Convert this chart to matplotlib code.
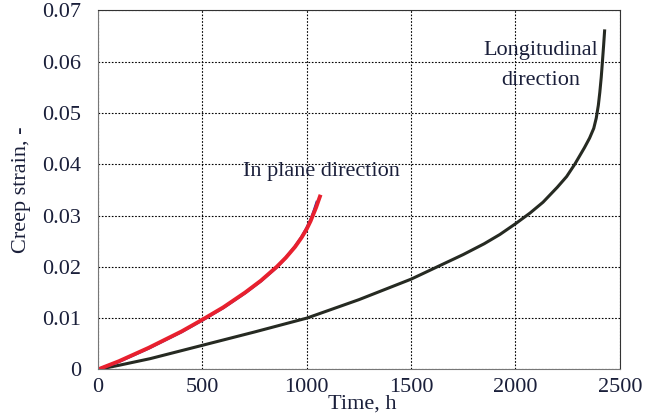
import matplotlib
matplotlib.use("Agg")
import matplotlib.pyplot as plt

# in plane direction (two specimens, red drawn over blue)
plane_time = [0, 100, 242, 400, 500, 600, 705, 780, 856, 900, 944, 975, 1000, 1018, 1032, 1045, 1056, 1063]
plane_strain = [0, 0.0016, 0.0042, 0.0074, 0.0097, 0.0121, 0.0150, 0.0173, 0.0200, 0.0218,
                0.0239, 0.0257, 0.0274, 0.0289, 0.0303, 0.0316, 0.0329, 0.0337]
plane2_time = [0, 100, 242, 400, 500, 600, 705, 780, 856, 900, 944, 975, 1000, 1020, 1035, 1048]
plane2_strain = [0, 0.0015, 0.0041, 0.0073, 0.0096, 0.0120, 0.0149, 0.0172, 0.0199, 0.0218,
                 0.0240, 0.0258, 0.0276, 0.0293, 0.0310, 0.0326]

# longitudinal direction
long_time = [0, 100, 250, 500, 750, 1000, 1250, 1500, 1750, 1850, 1925, 2000, 2070, 2132, 2200, 2245,
             2284, 2330, 2355, 2375, 2387, 2397, 2404, 2411, 2416, 2422, 2427]
long_strain = [0, 0.0008, 0.0021, 0.0047, 0.0073, 0.0100, 0.0136, 0.0176, 0.0224, 0.0245, 0.0263,
               0.0284, 0.0305, 0.0326, 0.0355, 0.0376, 0.0400, 0.0432, 0.0451, 0.0470, 0.0490,
               0.0515, 0.0540, 0.0570, 0.0597, 0.0630, 0.0660]

xticks = [0, 500, 1000, 1500, 2000, 2500]
yticks = [0, 0.01, 0.02, 0.03, 0.04, 0.05, 0.06, 0.07]
ytick_labels = ["0", "0.01", "0.02", "0.03", "0.04", "0.05", "0.06", "0.07"]

plt.rcParams["font.family"] = ["Liberation Serif", "DejaVu Serif"]
text_col = "#1a1f3a"

fig = plt.figure(figsize=(6.58, 4.16), dpi=100)
ax = fig.add_axes([0.149, 0.112, 0.793, 0.863])

ax.plot(long_time, long_strain, color="#262a22", lw=2.2, solid_joinstyle="round")
ax.plot(plane2_time, plane2_strain, color="#2a2fa0", lw=2.0, solid_joinstyle="round")
ax.plot(plane_time, plane_strain, color="#e8202e", lw=2.8, solid_joinstyle="round")

ax.set_xlim(0, 2500)
ax.set_ylim(0, 0.07)
ax.set_xticks(xticks)
ax.set_yticks(yticks)
ax.set_yticklabels(ytick_labels)
ax.tick_params(axis="y", length=0, labelsize=16, colors=text_col, pad=12)
ax.tick_params(axis="x", length=0, labelsize=16, colors=text_col, pad=6)
ax.grid(True, color="black", linestyle=(0, (1.5, 1.5)), linewidth=0.8)

for s in ["left", "bottom"]:
    ax.spines[s].set_color("#777777")
for s in ["top", "right"]:
    ax.spines[s].set_color("#333333")

ax.set_ylabel("Creep strain, -", fontsize=16, color=text_col, labelpad=8)
ax.text(1265, -0.0068, "Time, h", fontsize=16, color=text_col, ha="center", va="center")

ax.text(1070, 0.0385, "In plane direction", fontsize=16, color=text_col, ha="center", va="center")
ax.text(2120, 0.0593, "Longitudinal\ndirection", fontsize=16, color=text_col,
        ha="center", va="center", linespacing=1.75)

fig.savefig("out.png", dpi=100)
